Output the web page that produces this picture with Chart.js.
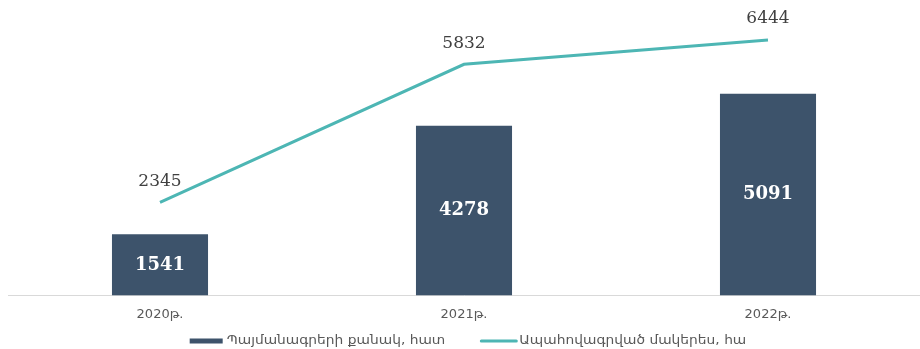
<!DOCTYPE html>
<html>
<head>
<meta charset="utf-8">
<script src="https://cdn.jsdelivr.net/npm/chart.js@4.4.0/dist/chart.umd.min.js"></script>
<style>
  html, body { margin: 0; padding: 0; background: #fff; }
  .wrap { width: 920px; height: 349px; position: relative; }
</style>
</head>
<body>
<div class="wrap"><canvas id="chart"></canvas></div>

<script>
    const years = ['2020թ.', '2021թ.', '2022թ.'];
    const contracts = [1541, 4278, 5091];      // bars
    const insuredArea = [2345, 5832, 6444];    // line
    const seriesNames = ['Պայմանագրերի քանակ, հատ', 'Ապահովագրված մակերես, հա'];

    const barColor = '#3d536b';
    const lineColor = '#4db6b4';

    // numbers on the bars and above the line
    const valueLabels = {
        id: 'valueLabels',
        afterDatasetsDraw(chart) {
            const ctx = chart.ctx;
            ctx.save();
            ctx.textAlign = 'center';
            ctx.textBaseline = 'middle';
            chart.data.datasets.forEach((ds, i) => {
                chart.getDatasetMeta(i).data.forEach((el, j) => {
                    if (ds.type === 'bar') {
                        ctx.font = 'bold 18px "DejaVu Serif"';
                        ctx.fillStyle = '#ffffff';
                        ctx.fillText(ds.data[j], el.x, (el.y + el.base) / 2);
                    } else {
                        ctx.font = '17px "DejaVu Serif"';
                        ctx.fillStyle = '#404040';
                        ctx.fillText(ds.data[j], el.x, el.y - 21);
                    }
                });
            });
            ctx.restore();
        }
    };

    // legend drawn by hand so the gaps match the original
    const bottomLegend = {
        id: 'bottomLegend',
        afterDraw(chart) {
            const ctx = chart.ctx;
            const y = 341;
            const sx = 1.15;   // the original text is a bit wider
            ctx.save();
            ctx.font = '12px "DejaVu Sans"';
            ctx.textBaseline = 'middle';
            const w1 = ctx.measureText(seriesNames[0]).width * sx;
            const w2 = ctx.measureText(seriesNames[1]).width * sx;
            const total = 33 + 4 + w1 + 35 + 37 + 2 + w2;
            let x = 468 - total / 2;

            ctx.fillStyle = barColor;
            ctx.fillRect(x, y - 2.5, 33, 5);
            x += 37;
            ctx.fillStyle = '#595959';
            ctx.save();
            ctx.translate(x, y);
            ctx.scale(sx, 1);
            ctx.fillText(seriesNames[0], 0, 0);
            ctx.restore();
            x += w1 + 35;

            ctx.strokeStyle = lineColor;
            ctx.lineWidth = 3;
            ctx.lineCap = 'round';
            ctx.beginPath();
            ctx.moveTo(x + 1, y);
            ctx.lineTo(x + 36, y);
            ctx.stroke();
            x += 39;
            ctx.save();
            ctx.translate(x, y);
            ctx.scale(sx, 1);
            ctx.fillText(seriesNames[1], 0, 0);
            ctx.restore();
            ctx.restore();
        }
    };

    new Chart(document.getElementById('chart'), {
        data: {
            labels: years,
            datasets: [{
                type: 'line',
                label: seriesNames[1],
                data: insuredArea,
                borderColor: lineColor,
                borderWidth: 3,
                pointRadius: 0,
                tension: 0,
                order: 0
            }, {
                type: 'bar',
                label: seriesNames[0],
                data: contracts,
                backgroundColor: barColor,
                categoryPercentage: 1,
                barPercentage: 0.316,
                order: 1
            }]
        },
        options: {
            responsive: true,
            maintainAspectRatio: false,
            animation: false,
            layout: { padding: { top: 18, left: 8, right: 0, bottom: 16 } },
            plugins: {
                legend: { display: false },
                tooltip: { enabled: false }
            },
            scales: {
                x: {
                    grid: { display: false, drawTicks: false },
                    border: { color: '#d9d9d9', width: 1 },
                    ticks: { color: '#595959', font: { family: 'DejaVu Sans', size: 13 }, padding: 11 }
                },
                y: { display: false, min: 0, max: 7000 }
            }
        },
        plugins: [valueLabels, bottomLegend]
    });
</script>
</body>
</html>
